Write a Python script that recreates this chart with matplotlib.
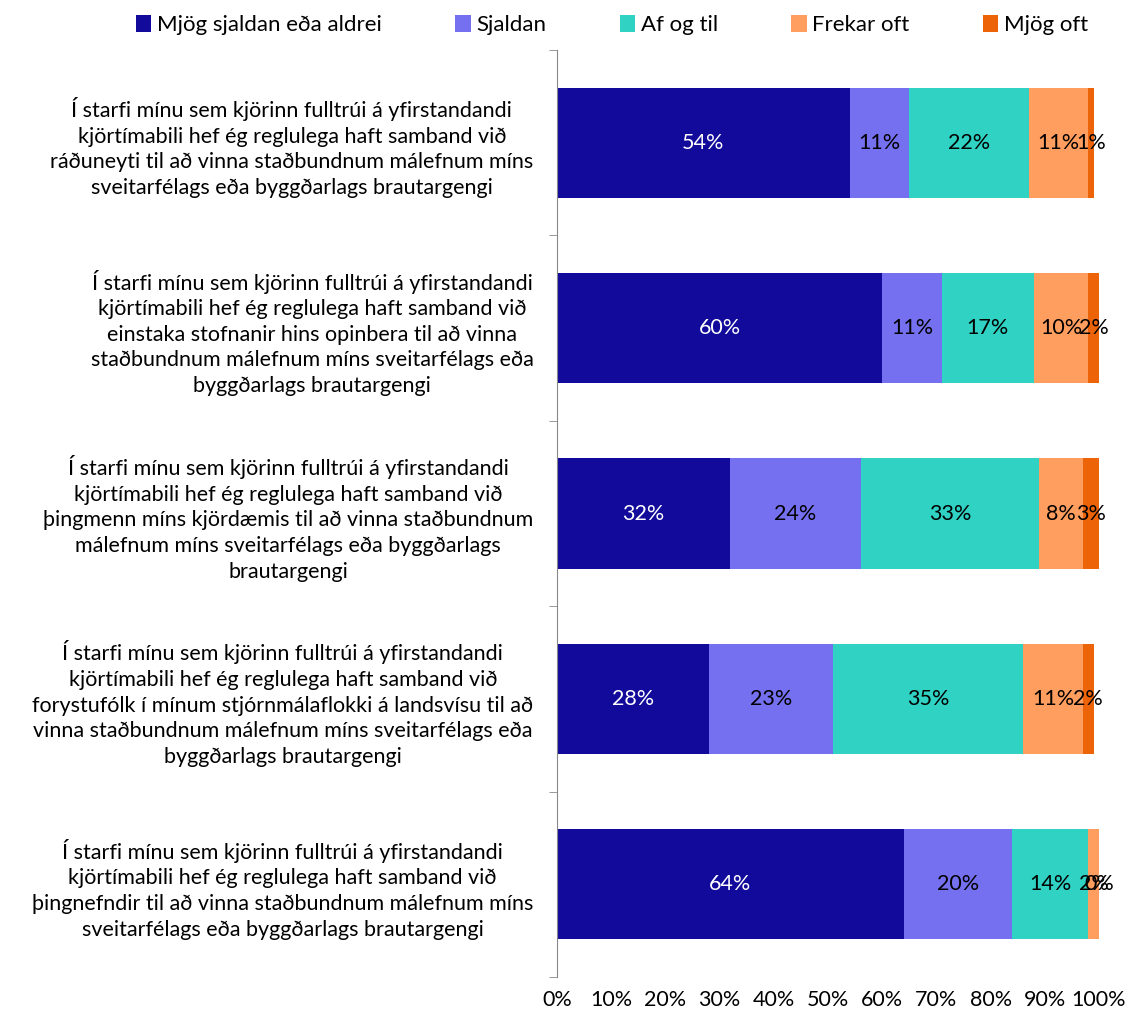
import matplotlib
matplotlib.use("Agg")
import matplotlib.pyplot as plt
import numpy as np

categories = [
    "Í starfi mínu sem kjörinn fulltrúi á yfirstandandi\nkjörtímabili hef ég reglulega haft samband við\nráðuneyti til að vinna staðbundnum málefnum míns\nsveitarfélags eða byggðarlags brautargengi",
    "Í starfi mínu sem kjörinn fulltrúi á yfirstandandi\nkjörtímabili hef ég reglulega haft samband við\neinstaka stofnanir hins opinbera til að vinna\nstaðbundnum málefnum míns sveitarfélags eða\nbyggðarlags brautargengi",
    "Í starfi mínu sem kjörinn fulltrúi á yfirstandandi\nkjörtímabili hef ég reglulega haft samband við\nþingmenn míns kjördæmis til að vinna staðbundnum\nmálefnum míns sveitarfélags eða byggðarlags\nbrautargengi",
    "Í starfi mínu sem kjörinn fulltrúi á yfirstandandi\nkjörtímabili hef ég reglulega haft samband við\nforystufólk í mínum stjórnmálaflokki á landsvísu til að\nvinna staðbundnum málefnum míns sveitarfélags eða\nbyggðarlags brautargengi",
    "Í starfi mínu sem kjörinn fulltrúi á yfirstandandi\nkjörtímabili hef ég reglulega haft samband við\nþingnefndir til að vinna staðbundnum málefnum míns\nsveitarfélags eða byggðarlags brautargengi",
]
series_names = ["Mjög sjaldan eða aldrei", "Sjaldan", "Af og til", "Frekar oft", "Mjög oft"]
mjog_sjaldan = [54, 60, 32, 28, 64]
sjaldan = [11, 11, 24, 23, 20]
af_og_til = [22, 17, 33, 35, 14]
frekar_oft = [11, 10, 8, 11, 2]
mjog_oft = [1, 2, 3, 2, 0]
xtick_labels = ["0%", "10%", "20%", "30%", "40%", "50%", "60%", "70%", "80%", "90%", "100%"]

colors = ["#120A9A", "#7570F0", "#2FD2C3", "#FF9E5E", "#EC6407"]
text_colors = ["white", "black", "black", "black", "black"]

plt.rcParams['font.family'] = ['Lato', 'DejaVu Sans']

fig = plt.figure(figsize=(11.29, 10.18), dpi=100)
ax = fig.add_axes([557/1129, 1 - 977/1018, (1099-557)/1129, (977-50)/1018])

data = [mjog_sjaldan, sjaldan, af_og_til, frekar_oft, mjog_oft]
y = np.arange(len(categories))
left = np.zeros(len(categories))
for i, vals in enumerate(data):
    vals = np.array(vals, dtype=float)
    ax.barh(y, vals, left=left, height=0.595, color=colors[i], label=series_names[i])
    for yy, l, v in zip(y, left, vals):
        ax.text(l + v / 2, yy, f"{int(v)}%", ha='center', va='center',
                color=text_colors[i], fontsize=15.5)
    left += vals

ax.set_ylim(len(categories) - 0.5, -0.5)
ax.set_xlim(0, 100)
ax.set_xticks(np.arange(0, 101, 10))
ax.set_xticklabels(xtick_labels, fontsize=15.5)
ax.set_yticks(y)
ax.set_yticklabels(categories, fontsize=15.5, multialignment='center', linespacing=1.35)
ax.tick_params(axis='y', length=0, pad=17)
ax.set_yticks(np.arange(-0.5, len(categories), 1), minor=True)
ax.tick_params(axis='y', which='minor', length=6, color='#888888')
ax.tick_params(axis='x', length=0, pad=9)
for s in ['top', 'right', 'bottom']:
    ax.spines[s].set_visible(False)
ax.spines['left'].set_color('#888888')

handles, labels = ax.get_legend_handles_labels()
fig.legend(handles, labels, loc='upper center', bbox_to_anchor=(0.542, 1.005), ncol=5,
           frameon=False, fontsize=16, handlelength=0.7, handleheight=0.8,
           handletextpad=0.25, columnspacing=3.3)

fig.savefig("out.png", dpi=100)
